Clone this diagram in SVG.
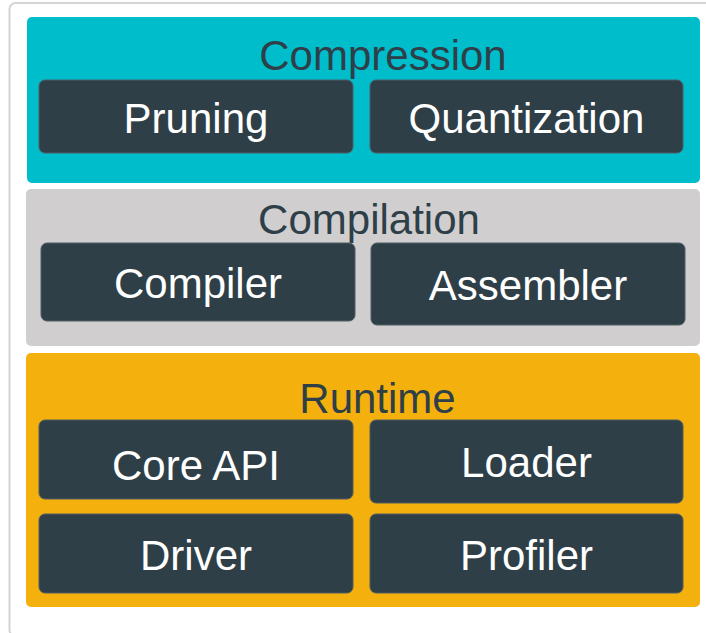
<svg xmlns="http://www.w3.org/2000/svg" width="706" height="633" viewBox="0 0 706 633">
  <style>
    .frame { fill: #ffffff; stroke: #d4d4d4; stroke-width: 2; }
    .layer-title { font-family: "Liberation Sans", Arial, sans-serif; font-size: 42px; fill: #2e3f48; text-anchor: middle; }
    .block rect { fill: #2e3f48; stroke: #4f5d65; stroke-width: 1; }
    .block text { font-family: "Liberation Sans", Arial, sans-serif; font-size: 42px; fill: #ffffff; text-anchor: middle; }
  </style>

  <!-- outer frame -->
  <rect class="frame" x="9.5" y="3" width="710" height="633" rx="6"/>

  <!-- Compression layer -->
  <g id="compression">
    <rect x="27" y="17" width="673" height="166" rx="5" fill="#00bdcc"/>
    <text class="layer-title" x="383" y="70">Compression</text>
    <g id="pruning" class="block">
      <rect x="39" y="80" width="314" height="73" rx="6"/>
      <text x="196" y="133">Pruning</text>
    </g>
    <g id="quantization" class="block">
      <rect x="370" y="80" width="313" height="73" rx="6"/>
      <text x="526.5" y="133">Quantization</text>
    </g>
  </g>

  <!-- Compilation layer -->
  <g id="compilation">
    <rect x="26" y="189" width="674" height="157" rx="5" fill="#d0cecf"/>
    <text class="layer-title" x="369" y="234">Compilation</text>
    <g id="compiler" class="block">
      <rect x="41" y="243" width="314" height="78" rx="6"/>
      <text x="198" y="298">Compiler</text>
    </g>
    <g id="assembler" class="block">
      <rect x="371" y="243" width="314" height="82" rx="6"/>
      <text x="528" y="300">Assembler</text>
    </g>
  </g>

  <!-- Runtime layer -->
  <g id="runtime">
    <rect x="26" y="353" width="674" height="254" rx="5" fill="#f4b00c"/>
    <text class="layer-title" x="377.5" y="413">Runtime</text>
    <g id="core-api" class="block">
      <rect x="39" y="420" width="314" height="79" rx="6"/>
      <text x="196" y="480">Core API</text>
    </g>
    <g id="loader" class="block">
      <rect x="370" y="420" width="313" height="83" rx="6"/>
      <text x="526.5" y="477">Loader</text>
    </g>
    <g id="driver" class="block">
      <rect x="39" y="514" width="314" height="79" rx="6"/>
      <text x="196" y="570">Driver</text>
    </g>
    <g id="profiler" class="block">
      <rect x="370" y="514" width="313" height="79" rx="6"/>
      <text x="526.5" y="570">Profiler</text>
    </g>
  </g>

  <!-- no connectors between layers -->
  <g id="connectors"/>
</svg>
